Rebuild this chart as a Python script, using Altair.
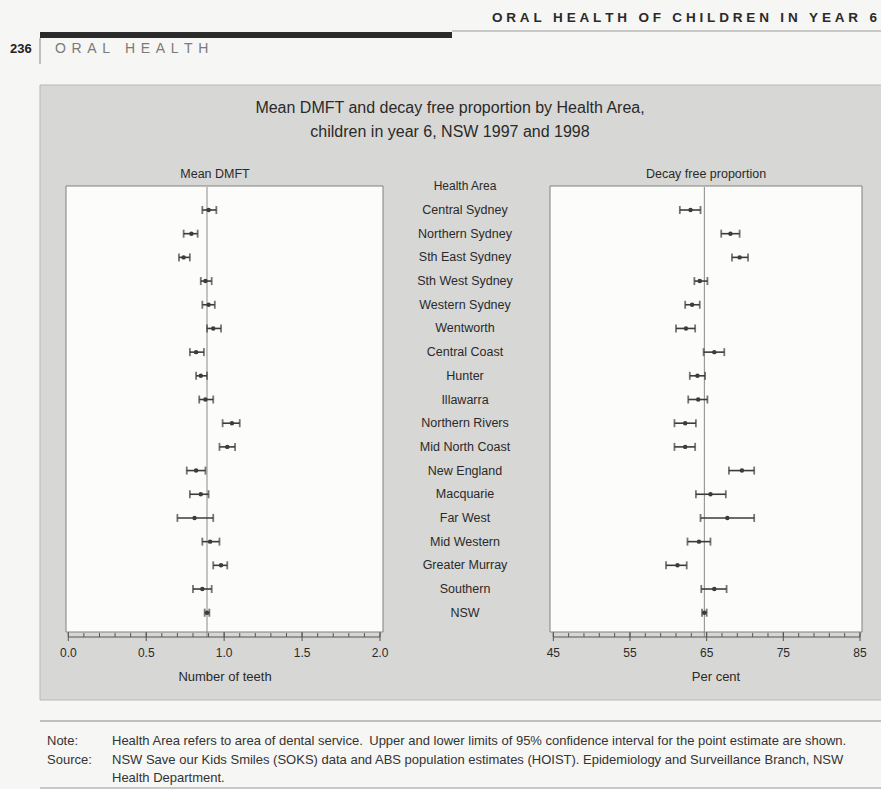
import altair as alt
import pandas as pd

# Health Areas, top to bottom
areas = [
    "Central Sydney", "Northern Sydney", "Sth East Sydney", "Sth West Sydney",
    "Western Sydney", "Wentworth", "Central Coast", "Hunter", "Illawarra",
    "Northern Rivers", "Mid North Coast", "New England", "Macquarie",
    "Far West", "Mid Western", "Greater Murray", "Southern", "NSW",
]

# Mean DMFT (number of teeth) with 95% confidence limits
dmft_mean = [0.90, 0.79, 0.74, 0.88, 0.90, 0.93, 0.82, 0.85, 0.88,
             1.05, 1.02, 0.82, 0.85, 0.81, 0.91, 0.98, 0.86, 0.89]
dmft_lo = [0.86, 0.74, 0.71, 0.85, 0.86, 0.89, 0.78, 0.82, 0.84,
           0.99, 0.97, 0.76, 0.78, 0.70, 0.86, 0.93, 0.80, 0.875]
dmft_hi = [0.95, 0.83, 0.78, 0.92, 0.94, 0.98, 0.87, 0.89, 0.93,
           1.10, 1.07, 0.88, 0.90, 0.93, 0.97, 1.02, 0.92, 0.905]

# Decay free proportion (per cent) with 95% confidence limits
free_mean = [62.9, 68.1, 69.3, 64.1, 63.1, 62.3, 66.0, 63.8, 63.9,
             62.2, 62.2, 69.6, 65.5, 67.7, 64.0, 61.2, 66.0, 64.7]
free_lo = [61.5, 66.9, 68.3, 63.4, 62.2, 61.0, 64.6, 62.8, 62.6,
           60.8, 60.8, 67.9, 63.6, 64.2, 62.5, 59.7, 64.3, 64.4]
free_hi = [64.2, 69.3, 70.4, 65.1, 64.1, 63.5, 67.3, 64.8, 65.1,
           63.6, 63.5, 71.2, 67.5, 71.2, 65.5, 62.4, 67.6, 65.0]

# Axis ticks
dmft_minor = [i / 10 for i in range(21)]
dmft_major = [0.0, 0.5, 1.0, 1.5, 2.0]
dmft_labels = ["0.0", "0.5", "1.0", "1.5", "2.0"]
free_minor = list(range(45, 86, 2))
free_major = [45, 55, 65, 75, 85]
free_labels = ["45", "55", "65", "75", "85"]

FONT = "Liberation Sans"
INK = "#2a2a2a"
BAR = "#3c3c3c"
PAGE = "#f6f6f4"
BOX = "#d7d7d5"

df = pd.DataFrame({
    "area": areas,
    "dmft": dmft_mean, "dmft_lo": dmft_lo, "dmft_hi": dmft_hi,
    "free": free_mean, "free_lo": free_lo, "free_hi": free_hi,
})
nsw = df[df["area"] == "NSW"]
one = pd.DataFrame({"k": [0]})

y_scale = alt.Scale(type="point", domain=areas, range=[210, 612.7], padding=0)
left_scale = alt.Scale(domain=[0, 2], range=[68.3, 380], nice=False, zero=False)
right_scale = alt.Scale(domain=[45, 85], range=[553.3, 860], nice=False, zero=False)

AXIS_Y = 637


def ycat():
    return alt.Y("area:N", scale=y_scale, axis=None)


def text_at(s, x, y, size=12, color=INK, align="center", weight="normal", font=FONT):
    return alt.Chart(one).mark_text(
        text=s, font=font, fontSize=size, color=color, align=align,
        baseline="middle", fontWeight=weight,
    ).encode(x=alt.value(x), y=alt.value(y))


def rule_at(x, x2, y, y2, color, width):
    return alt.Chart(one).mark_rule(color=color, strokeWidth=width).encode(
        x=alt.value(x), x2=alt.value(x2), y=alt.value(y), y2=alt.value(y2)
    )


def panel(mean, lo, hi, scale, minor, major, labels, dom, frame_x, title, xlabel, title_x):
    def X(f):
        return alt.X(f"{f}:Q", scale=scale, axis=None)

    frame = alt.Chart(one).mark_rect(fill="#fcfcfb", stroke="#808080", strokeWidth=1).encode(
        x=alt.value(frame_x[0]), x2=alt.value(frame_x[1]), y=alt.value(186), y2=alt.value(632)
    )
    ref = alt.Chart(nsw).mark_rule(color="#8a8a8a", strokeWidth=1).encode(
        x=X(mean), y=alt.value(187), y2=alt.value(AXIS_Y)
    )
    bars = alt.Chart(df).mark_rule(color=BAR, strokeWidth=1.6).encode(
        x=X(lo), x2=alt.X2(f"{hi}:Q"), y=ycat()
    )
    cap_lo = alt.Chart(df).mark_tick(color=BAR, thickness=1.8, size=8, orient="vertical").encode(
        x=X(lo), y=ycat()
    )
    cap_hi = alt.Chart(df).mark_tick(color=BAR, thickness=1.8, size=8, orient="vertical").encode(
        x=X(hi), y=ycat()
    )
    pts = alt.Chart(df).mark_circle(color=BAR, size=20, opacity=1).encode(
        x=X(mean), y=ycat()
    )
    axis_line = alt.Chart(pd.DataFrame({"a": [dom[0]], "b": [dom[1]]})).mark_rule(
        color="#555555", strokeWidth=1
    ).encode(x=X("a"), x2=alt.X2("b:Q"), y=alt.value(AXIS_Y))
    minor_ticks = alt.Chart(pd.DataFrame({"v": minor})).mark_rule(
        color="#555555", strokeWidth=1
    ).encode(x=X("v"), y=alt.value(AXIS_Y - 4), y2=alt.value(AXIS_Y))
    major_ticks = alt.Chart(pd.DataFrame({"v": major})).mark_rule(
        color="#555555", strokeWidth=1
    ).encode(x=X("v"), y=alt.value(AXIS_Y - 5), y2=alt.value(AXIS_Y + 4))
    tick_labels = alt.Chart(pd.DataFrame({"v": major, "t": labels})).mark_text(
        font=FONT, fontSize=12, color=INK, baseline="middle"
    ).encode(x=X("v"), y=alt.value(653), text="t:N")
    return [
        frame, ref, bars, cap_lo, cap_hi, pts,
        axis_line, minor_ticks, major_ticks, tick_labels,
        text_at(title, title_x, 174, size=12.5),
        text_at(xlabel, title_x + 10, 677, size=13),
    ]


# Page furniture: running head, section tab and the shaded figure box
THIN = "\u2009"
HAIR = "\u200a"
NOTE_SIZE = 13
page = [
    alt.Chart(one).mark_rect(fill=BOX, stroke="#b8b8b6", strokeWidth=1).encode(
        x=alt.value(40), x2=alt.value(890), y=alt.value(85), y2=alt.value(700)
    ),
    text_at((THIN + HAIR).join("ORAL HEALTH OF CHILDREN IN YEAR 6"), 877, 18, size=13.5,
            color="#2a2a2a", align="right", weight="bold"),
    rule_at(452, 881, 31, 31, "#9a9a9a", 1),
    alt.Chart(one).mark_rect(fill="#2b2b2b").encode(
        x=alt.value(40), x2=alt.value(452), y=alt.value(32), y2=alt.value(38)
    ),
    rule_at(40, 40, 38, 64, "#8a8a8a", 1),
    text_at("236", 10, 49, size=13, color="#222222", align="left", weight="bold"),
    text_at((THIN * 2).join("ORAL HEALTH"), 55, 49, size=14, color="#7a7a7a", align="left"),
    text_at("Mean DMFT and decay free proportion by Health Area,", 450, 108, size=16),
    text_at("children in year 6, NSW 1997 and 1998", 450, 132, size=16),
    text_at("Health Area", 465, 186, size=12),
    rule_at(40, 881, 721, 721, "#8a8a8a", 1),
    text_at("Note:", 47, 741, size=NOTE_SIZE, color="#333333", align="left"),
    text_at("Health Area refers to area of dental service.\u2002Upper and lower limits of 95% "
            "confidence interval for the point estimate are shown.",
            112, 741, size=NOTE_SIZE, color="#333333", align="left"),
    text_at("Source:", 47, 760, size=NOTE_SIZE, color="#333333", align="left"),
    text_at("NSW Save our Kids Smiles (SOKS) data and ABS population estimates (HOIST). "
            "Epidemiology and Surveillance Branch, NSW",
            112, 760, size=NOTE_SIZE, color="#333333", align="left"),
    text_at("Health Department.", 112, 778, size=NOTE_SIZE, color="#333333", align="left"),
    rule_at(40, 881, 788, 788, "#9a9a9a", 1),
]

names = alt.Chart(df).mark_text(font=FONT, fontSize=12.5, color=INK, baseline="middle").encode(
    x=alt.value(465), y=ycat(), text="area:N"
)

left = panel("dmft", "dmft_lo", "dmft_hi", left_scale, dmft_minor, dmft_major, dmft_labels,
             [0, 2], (66, 383), "Mean DMFT", "Number of teeth", 215)
right = panel("free", "free_lo", "free_hi", right_scale, free_minor, free_major, free_labels,
              [45, 85], (550, 862), "Decay free proportion", "Per cent", 706)

chart = (
    alt.layer(*page, *left, names, *right)
    .resolve_scale(x="independent", y="independent")
    .properties(width=881, height=789, autosize=alt.AutoSizeParams(type="none"),
                padding=0, background=PAGE)
    .configure_view(stroke=None)
)

chart.save("out.html", embed_options={"renderer": "svg", "actions": False})
